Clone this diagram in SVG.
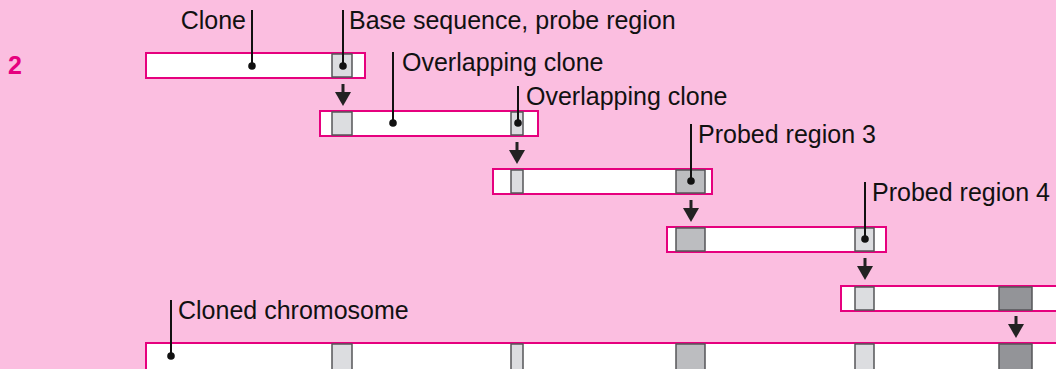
<svg xmlns="http://www.w3.org/2000/svg" width="1056" height="369" viewBox="0 0 1056 369">
<defs>
<style>
.bg{fill:#fbbee0}
.bar{fill:#ffffff;stroke:#e6007e;stroke-width:2}
.l{fill:#dcdde0;stroke:#555558;stroke-width:1.5}
.m{fill:#bcbdc0;stroke:#555558;stroke-width:1.5}
.d{fill:#939498;stroke:#555558;stroke-width:1.5}
.lead{stroke:#111;stroke-width:2;fill:none}
.dot{fill:#111}
.t{font-family:"Liberation Sans",Arial,sans-serif;font-size:25px;fill:#111}
.num{font-family:"Liberation Sans",Arial,sans-serif;font-size:25px;font-weight:bold;fill:#e6007e}
.arr{fill:#222}
</style>
<g id="arrow">
<rect x="-1.5" y="0" width="3" height="10" class="arr"/>
<polygon points="-8,8 8,8 0,22" class="arr"/>
</g>
</defs>
<rect class="bg" x="0" y="0" width="1056" height="369"/>
<text class="num" x="8" y="74">2</text>

<g id="clone1">
<rect class="bar" x="146" y="53" width="219" height="25"/>
<rect class="l" x="332" y="54" width="20" height="23"/>
</g>
<g id="clone2">
<rect class="bar" x="320" y="111" width="218" height="25"/>
<rect class="l" x="332" y="112" width="20" height="23"/>
<rect class="l" x="511" y="112" width="12" height="23"/>
</g>
<g id="clone3">
<rect class="bar" x="493" y="169" width="219" height="25"/>
<rect class="l" x="511" y="170" width="12" height="23"/>
<rect class="m" x="676" y="170" width="29" height="23"/>
</g>
<g id="clone4">
<rect class="bar" x="667" y="227" width="219" height="25"/>
<rect class="m" x="676" y="228" width="29" height="23"/>
<rect class="l" x="855" y="228" width="19" height="23"/>
</g>
<g id="clone5">
<rect class="bar" x="841" y="286" width="230" height="25"/>
<rect class="l" x="855" y="287" width="19" height="23"/>
<rect class="d" x="999" y="287" width="33" height="23"/>
</g>
<g id="chromosome">
<rect class="bar" x="146" y="343" width="930" height="40"/>
<rect class="l" x="332" y="344" width="20" height="30"/>
<rect class="l" x="511" y="344" width="12" height="30"/>
<rect class="m" x="676" y="344" width="29" height="30"/>
<rect class="l" x="855" y="344" width="19" height="30"/>
<rect class="d" x="999" y="344" width="33" height="30"/>
</g>

<g id="connectors">
<use href="#arrow" x="343" y="84"/>
<use href="#arrow" x="517" y="142"/>
<use href="#arrow" x="691" y="200"/>
<use href="#arrow" x="865" y="258"/>
<use href="#arrow" x="1016" y="316"/>
<line class="lead" x1="252" y1="10" x2="252" y2="66"/>
<circle class="dot" cx="252" cy="66" r="3.8"/>
<line class="lead" x1="343" y1="10" x2="343" y2="66"/>
<circle class="dot" cx="343" cy="66" r="3.8"/>
<line class="lead" x1="393" y1="52" x2="393" y2="123"/>
<circle class="dot" cx="393" cy="123" r="3.8"/>
<line class="lead" x1="518" y1="86" x2="518" y2="123"/>
<circle class="dot" cx="518" cy="123" r="3.8"/>
<line class="lead" x1="691" y1="124" x2="691" y2="181"/>
<circle class="dot" cx="691" cy="181" r="3.8"/>
<line class="lead" x1="865" y1="182" x2="865" y2="239"/>
<circle class="dot" cx="865" cy="239" r="3.8"/>
<line class="lead" x1="171" y1="300" x2="171" y2="356"/>
<circle class="dot" cx="171" cy="356" r="3.8"/>
</g>

<g id="labels">
<text class="t" x="246" y="29" text-anchor="end">Clone</text>
<text class="t" x="349" y="29">Base sequence, probe region</text>
<text class="t" x="402" y="71">Overlapping clone</text>
<text class="t" x="526" y="105">Overlapping clone</text>
<text class="t" x="698" y="143">Probed region 3</text>
<text class="t" x="872" y="201">Probed region 4</text>
<text class="t" x="178" y="319">Cloned chromosome</text>
</g>
</svg>
